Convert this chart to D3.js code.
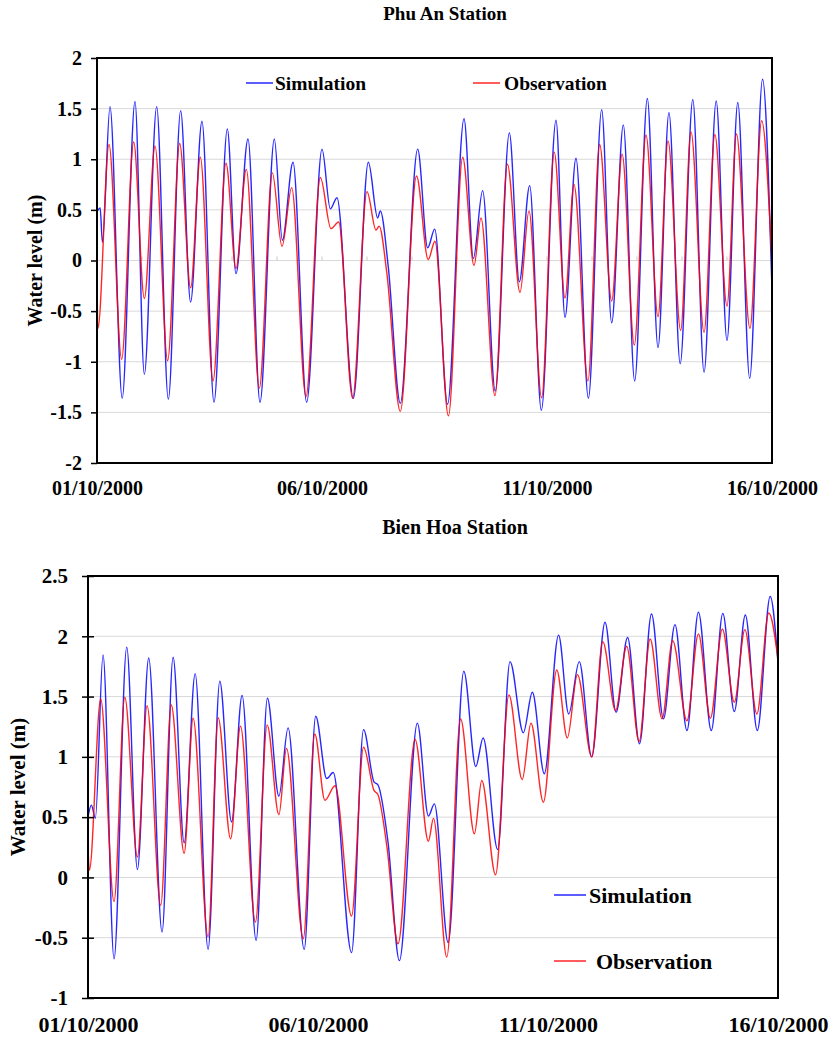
<!DOCTYPE html>
<html>
<head>
<meta charset="utf-8">
<script src="https://cdn.jsdelivr.net/npm/d3@7"></script>
<style>
  body { margin: 0; background: #fff; }
  text { font-family: 'Liberation Serif', 'Times New Roman', serif; font-weight: bold; fill: #000; }
</style>
</head>
<body>
<svg id="chart" width="833" height="1037"></svg>
<script>
// [day since 01/10/2000, water level (m)] read at the turning points of each curve
const phuAnSim = [[0,0.48],[0.07,0.52],[0.12,0.18],[0.289,1.52],[0.56,-1.36],[0.844,1.57],[1.052,-1.125],[1.326,1.52],[1.585,-1.37],[1.859,1.48],[2.08,-0.41],[2.333,1.375],[2.6,-1.40],[2.896,1.30],[3.089,-0.13],[3.356,1.20],[3.622,-1.40],[3.941,1.20],[4.119,0.20],[4.356,0.97],[4.659,-1.40],[5.0,1.10],[5.185,0.51],[5.333,0.62],[5.696,-1.36],[6.03,0.97],[6.237,0.42],[6.296,0.49],[6.47,-0.05],[6.74,-1.41],[7.126,1.10],[7.348,0.125],[7.505,0.31],[7.79,-1.42],[8.156,1.40],[8.363,0.02],[8.57,0.69],[8.85,-1.29],[9.163,1.26],[9.385,-0.21],[9.615,0.74],[9.874,-1.48],[10.2,1.385],[10.4,-0.56],[10.644,1.01],[10.92,-1.36],[11.215,1.49],[11.437,-0.615],[11.696,1.34],[11.948,-1.19],[12.23,1.60],[12.467,-0.86],[12.71,1.46],[12.96,-1.02],[13.24,1.59],[13.49,-1.105],[13.76,1.575],[14.0,-0.79],[14.24,1.56],[14.504,-1.165],[14.79,1.79],[15,-0.3]];
const phuAnObs = [[0,-0.3],[0.02,-0.67],[0.267,1.145],[0.548,-0.975],[0.815,1.17],[1.052,-0.375],[1.289,1.13],[1.57,-0.99],[1.837,1.155],[2.08,-0.27],[2.296,1.02],[2.578,-1.19],[2.867,0.96],[3.089,-0.08],[3.318,0.90],[3.607,-1.26],[3.896,0.865],[4.111,0.14],[4.326,0.72],[4.644,-1.345],[4.963,0.82],[5.2,0.315],[5.37,0.38],[5.68,-1.36],[6.0,0.68],[6.2,0.30],[6.27,0.34],[6.44,-0.12],[6.74,-1.49],[7.10,0.835],[7.36,0.01],[7.51,0.19],[7.81,-1.535],[8.126,1.02],[8.378,-0.05],[8.533,0.42],[8.844,-1.335],[9.12,0.95],[9.40,-0.315],[9.6,0.49],[9.88,-1.355],[10.16,1.07],[10.4,-0.37],[10.6,0.75],[10.91,-1.19],[11.17,1.145],[11.437,-0.40],[11.67,1.05],[11.94,-0.835],[12.2,1.24],[12.467,-0.555],[12.69,1.18],[12.97,-0.69],[13.2,1.27],[13.49,-0.71],[13.73,1.245],[14.0,-0.45],[14.21,1.25],[14.51,-0.67],[14.77,1.38],[15,-0.03]];
const bienHoaSim = [[0,0.5],[0.073,0.6],[0.16,0.49],[0.327,1.845],[0.566,-0.675],[0.842,1.91],[1.074,0.066],[1.32,1.82],[1.61,-0.453],[1.85,1.826],[2.09,0.287],[2.33,1.69],[2.61,-0.597],[2.865,1.627],[3.12,0.46],[3.35,1.51],[3.655,-0.522],[3.9,1.486],[4.15,0.674],[4.35,1.24],[4.70,-0.597],[4.95,1.337],[5.19,0.82],[5.33,0.87],[5.73,-0.624],[5.99,1.226],[6.22,0.79],[6.3,0.77],[6.52,0.3],[6.77,-0.69],[7.16,1.28],[7.4,0.51],[7.53,0.61],[7.83,-0.54],[8.17,1.71],[8.43,0.92],[8.59,1.157],[8.906,0.232],[9.174,1.79],[9.464,1.2],[9.66,1.536],[9.92,0.86],[10.23,2.01],[10.45,1.356],[10.68,1.79],[10.95,1.0],[11.24,2.116],[11.48,1.37],[11.73,1.99],[11.99,1.108],[12.25,2.185],[12.51,1.315],[12.76,2.097],[13.02,1.218],[13.27,2.2],[13.55,1.218],[13.80,2.19],[14.05,1.376],[14.29,2.177],[14.55,1.218],[14.83,2.33],[15,1.78]];
const bienHoaObs = [[0,0.25],[0.03,0.06],[0.276,1.48],[0.566,-0.2],[0.80,1.494],[1.074,0.17],[1.284,1.425],[1.58,-0.232],[1.81,1.43],[2.09,0.2],[2.285,1.32],[2.61,-0.494],[2.83,1.323],[3.1,0.32],[3.315,1.254],[3.64,-0.37],[3.895,1.265],[4.15,0.52],[4.315,1.07],[4.68,-0.508],[4.93,1.19],[5.15,0.64],[5.37,0.76],[5.73,-0.32],[5.99,1.08],[6.22,0.72],[6.3,0.69],[6.5,0.25],[6.74,-0.55],[7.11,1.144],[7.4,0.3],[7.51,0.49],[7.8,-0.66],[8.10,1.315],[8.40,0.362],[8.56,0.804],[8.86,0.022],[9.15,1.514],[9.44,0.812],[9.63,1.279],[9.90,0.624],[10.19,1.72],[10.42,1.157],[10.64,1.682],[10.95,1.0],[11.19,1.956],[11.47,1.384],[11.71,1.917],[11.98,1.127],[12.22,1.978],[12.48,1.315],[12.71,1.964],[13.02,1.30],[13.27,2.02],[13.53,1.32],[13.79,2.06],[14.05,1.453],[14.28,2.055],[14.54,1.356],[14.80,2.193],[15,1.81]];

const phuAnTicks = [-2, -1.5, -1, -0.5, 0, 0.5, 1, 1.5, 2];
const bienHoaTicks = [-1, -0.5, 0, 0.5, 1, 1.5, 2, 2.5];
const dateLabels = ['01/10/2000', '06/10/2000', '11/10/2000', '16/10/2000'];
const seriesNames = ['Simulation', 'Observation'];
const seriesColors = ['#0000ff', '#ff0000'];

const parseDate = d3.utcParse('%d/%m/%Y');
const dateTicks = dateLabels.map(parseDate);
const t0 = dateTicks[0].getTime();
const toDate = day => new Date(t0 + day * 864e5);

const svg = d3.select('#chart');

function drawPanel(cfg) {
    const x = d3.scaleUtc()
        .domain([dateTicks[0], dateTicks[dateTicks.length - 1]])
        .range([cfg.left, cfg.right]);
    const y = d3.scaleLinear()
        .domain([cfg.yTicks[0], cfg.yTicks[cfg.yTicks.length - 1]])
        .range([cfg.bottom, cfg.top]);

    const g = svg.append('g');

    // gridlines
    g.append('g')
        .selectAll('line')
        .data(cfg.yTicks)
        .join('line')
        .attr('x1', cfg.left)
        .attr('x2', cfg.right)
        .attr('y1', d => y(d))
        .attr('y2', d => y(d))
        .attr('stroke', '#d9d9d9')
        .attr('stroke-width', 1);

    // faint day ticks sitting on the zero line
    if (cfg.zeroTicks) {
        g.append('g')
            .selectAll('line')
            .data(d3.utcDay.range(dateTicks[0], dateTicks[3]).slice(1))
            .join('line')
            .attr('x1', d => x(d))
            .attr('x2', d => x(d))
            .attr('y1', y(0))
            .attr('y2', y(0) - 4)
            .attr('stroke', '#c8c8c8');
    }

    const clipId = cfg.id + '-clip';
    g.append('clipPath').attr('id', clipId)
        .append('rect')
        .attr('x', cfg.left).attr('y', cfg.top)
        .attr('width', cfg.right - cfg.left).attr('height', cfg.bottom - cfg.top);

    const line = d3.line()
        .x(d => x(toDate(d[0])))
        .y(d => y(d[1]))
        .curve(d3.curveMonotoneX);

    g.append('g')
        .attr('clip-path', `url(#${clipId})`)
        .selectAll('path')
        .data(cfg.series)
        .join('path')
        .attr('d', d => line(d))
        .attr('fill', 'none')
        .attr('stroke', (d, i) => seriesColors[i])
        .attr('stroke-width', 1.4)
        .attr('stroke-opacity', 0.85)
        .attr('stroke-linejoin', 'round');

    // frame
    g.append('rect')
        .attr('x', cfg.left).attr('y', cfg.top)
        .attr('width', cfg.right - cfg.left).attr('height', cfg.bottom - cfg.top)
        .attr('fill', 'none')
        .attr('stroke', '#000')
        .attr('stroke-width', 2);

    // y axis
    const yAxis = g.append('g')
        .attr('transform', `translate(${cfg.left},0)`)
        .call(d3.axisLeft(y)
            .tickValues(cfg.yTicks)
            .tickFormat(d => String(d))
            .tickSize(6)
            .tickPadding(cfg.yPad));
    yAxis.select('.domain').remove();
    yAxis.attr('font-family', null).attr('font-size', cfg.fontSize);
    yAxis.selectAll('.tick line').attr('stroke', '#000').attr('stroke-width', 1.5);
    if (cfg.crossTicks) yAxis.selectAll('.tick line').attr('x1', 6);

    // x axis labels
    const xAxis = g.append('g')
        .attr('transform', `translate(0,${cfg.bottom})`)
        .call(d3.axisBottom(x)
            .tickValues(dateTicks)
            .tickFormat(d3.utcFormat('%d/%m/%Y'))
            .tickSize(0)
            .tickPadding(cfg.xPad));
    xAxis.select('.domain').remove();
    xAxis.attr('font-family', null).attr('font-size', cfg.xFontSize);

    // title
    g.append('text')
        .attr('x', cfg.titleX)
        .attr('y', cfg.titleY)
        .attr('text-anchor', 'middle')
        .attr('font-size', cfg.titleSize)
        .text(cfg.title);

    // y axis title
    g.append('text')
        .attr('transform', `translate(${cfg.yTitleX},${(cfg.top + cfg.bottom) / 2}) rotate(-90)`)
        .attr('text-anchor', 'middle')
        .attr('dy', '0.35em')
        .attr('font-size', cfg.yTitleSize)
        .text('Water level (m)');

    // legend
    const legend = g.append('g')
        .selectAll('g')
        .data(seriesNames)
        .join('g')
        .attr('transform', (d, i) => `translate(${cfg.legend[i][0]},${cfg.legend[i][1]})`);
    legend.append('line')
        .attr('x1', 0).attr('x2', cfg.legendLen)
        .attr('stroke', (d, i) => seriesColors[i])
        .attr('stroke-width', 1.5)
        .attr('stroke-opacity', 0.85);
    legend.append('text')
        .attr('x', (d, i) => cfg.legendGap[i])
        .attr('dy', '0.35em')
        .attr('font-size', cfg.legendSize)
        .text(d => d);
}

drawPanel({
    id: 'phuan',
    title: 'Phu An Station',
    series: [phuAnSim, phuAnObs],
    yTicks: phuAnTicks,
    left: 97, right: 772, top: 58, bottom: 463,
    yPad: 9, xPad: 18, fontSize: 20, xFontSize: 20,
    crossTicks: false, zeroTicks: true,
    titleX: 445, titleY: 20, titleSize: 19,
    yTitleX: 35, yTitleSize: 20,
    legend: [[246, 83], [473, 83]], legendLen: 27, legendGap: [29, 31], legendSize: 19.5
});

drawPanel({
    id: 'bienhoa',
    title: 'Bien Hoa Station',
    series: [bienHoaSim, bienHoaObs],
    yTicks: bienHoaTicks,
    left: 88, right: 778, top: 576, bottom: 998,
    yPad: 14, xPad: 18, fontSize: 21, xFontSize: 22,
    crossTicks: true, zeroTicks: false,
    titleX: 455, titleY: 534, titleSize: 20,
    yTitleX: 18, yTitleSize: 21,
    legend: [[554, 895], [554, 961]], legendLen: 32, legendGap: [35, 42], legendSize: 22
});
</script>
</body>
</html>
